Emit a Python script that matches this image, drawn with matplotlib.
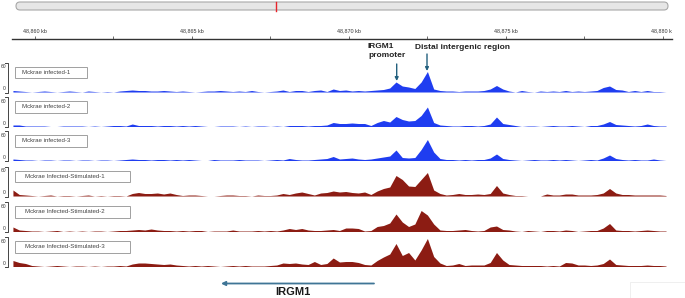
import matplotlib.pyplot as plt
import numpy as np
from matplotlib.patches import FancyBboxPatch, Rectangle

plt.rcParams['font.family'] = ['Liberation Sans', 'DejaVu Sans']

# genomic bins (kb), 0.2 kb wide
start_kb = 48859.3
bin_kb = 0.2

infected_1 = [3, 2, 1, 0, 1, 2, 1, 0, 1, 2,
              1, 0, 2, 1, 0, 1, 0, 2, 3, 4,
              3, 3, 2, 2, 3, 2, 1, 2, 1, 0,
              1, 2, 2, 3, 2, 1, 2, 1, 3, 1,
              0, 1, 2, 4, 1, 3, 3, 1, 3, 4,
              1, 6, 3, 4, 2, 3, 2, 3, 4, 5,
              8, 20, 12, 10, 7, 20, 41, 6, 3, 2,
              2, 1, 2, 2, 2, 3, 6, 13, 6, 2,
              0, 3, 1, 0, 2, 1, 2, 1, 3, 1,
              2, 1, 2, 3, 9, 12, 5, 4, 1, 3,
              1, 3, 1, 1, 0]
infected_2 = [3, 3, 1, 1, 1, 1, 0, 0, 1, 1,
              1, 1, 0, 1, 0, 1, 2, 2, 1, 5,
              2, 2, 2, 1, 2, 2, 1, 2, 1, 2,
              1, 0, 0, 1, 1, 1, 0, 1, 0, 1,
              1, 0, 1, 0, 2, 2, 2, 1, 2, 2,
              3, 8, 6, 6, 7, 6, 6, 2, 8, 12,
              9, 20, 14, 11, 12, 22, 39, 8, 3, 2,
              1, 1, 2, 2, 1, 2, 5, 19, 6, 4,
              2, 0, 1, 1, 0, 1, 2, 1, 1, 2,
              1, 0, 2, 2, 5, 10, 4, 3, 2, 1,
              2, 5, 2, 1, 1]
infected_3 = [3, 2, 1, 1, 0, 1, 1, 0, 1, 1,
              0, 1, 1, 0, 1, 1, 0, 1, 2, 3,
              2, 2, 1, 2, 2, 1, 2, 1, 2, 1,
              0, 0, 2, 1, 1, 1, 2, 1, 1, 1,
              0, 1, 2, 1, 4, 2, 1, 1, 2, 3,
              4, 8, 3, 4, 5, 3, 2, 3, 5, 7,
              9, 21, 6, 5, 6, 22, 42, 17, 4, 2,
              2, 1, 2, 1, 2, 2, 5, 13, 4, 2,
              1, 0, 1, 2, 1, 1, 2, 1, 2, 1,
              0, 1, 2, 1, 5, 11, 4, 2, 1, 2,
              1, 1, 3, 1, 0]
stimulated_1 = [12, 3, 2, 1, 0, 1, 2, 0, 1, 1,
                0, 1, 2, 0, 1, 0, 1, 1, 0, 5,
                7, 5, 5, 6, 4, 6, 3, 1, 2, 2,
                1, 0, 0, 1, 2, 2, 1, 1, 0, 2,
                1, 1, 2, 5, 3, 6, 8, 5, 2, 6,
                7, 10, 8, 9, 7, 6, 8, 3, 10, 15,
                18, 41, 33, 20, 19, 33, 47, 12, 5, 2,
                3, 5, 3, 3, 4, 3, 5, 21, 6, 3,
                1, 1, 0, 0, 0, 4, 2, 2, 4, 4,
                2, 2, 2, 3, 6, 15, 6, 3, 3, 2,
                2, 2, 2, 2, 1]
stimulated_2 = [9, 3, 2, 1, 1, 0, 1, 2, 0, 1,
                0, 1, 0, 1, 1, 0, 1, 2, 2, 3,
                4, 3, 5, 3, 2, 2, 1, 2, 1, 2,
                2, 0, 1, 1, 1, 3, 1, 1, 1, 2,
                1, 2, 1, 3, 6, 4, 6, 3, 2, 2,
                3, 4, 2, 7, 7, 6, 1, 2, 10, 12,
                17, 35, 19, 10, 15, 42, 33, 15, 3, 2,
                2, 3, 4, 2, 1, 2, 9, 11, 4, 3,
                1, 0, 2, 1, 0, 2, 2, 1, 3, 2,
                0, 1, 2, 2, 7, 16, 3, 2, 2, 1,
                2, 3, 2, 1, 1]
stimulated_3 = [12, 8, 6, 2, 1, 0, 1, 2, 1, 0,
                1, 1, 0, 1, 0, 1, 1, 2, 1, 5,
                7, 7, 6, 5, 4, 5, 3, 2, 1, 2,
                1, 2, 1, 0, 1, 2, 1, 2, 1, 1,
                1, 2, 3, 7, 6, 7, 5, 4, 10, 4,
                6, 17, 9, 10, 10, 8, 4, 3, 12, 19,
                25, 46, 22, 28, 13, 33, 56, 20, 7, 2,
                3, 6, 2, 3, 3, 3, 8, 28, 13, 4,
                3, 2, 2, 2, 2, 1, 2, 1, 8, 7,
                3, 3, 2, 3, 6, 15, 4, 3, 2, 2,
                2, 3, 2, 2, 1]

track_names = ['Mckrae infected-1', 'Mckrae infected-2', 'Mckrae infected-3',
               'Mckrae Infected-Stimulated-1', 'Mckrae Infected-Stimulated-2',
               'Mckrae Infected-Stimulated-3']
track_values = [infected_1, infected_2, infected_3,
                stimulated_1, stimulated_2, stimulated_3]
track_colors = ['#1f3df0'] * 3 + ['#8c1c13'] * 3
data_max = 60

ruler_ticks = [48860, 48862.5, 48865, 48867.5, 48870, 48872.5, 48875, 48877.5, 48880]
ruler_labels = ['48,860 kb', '48,865 kb', '48,870 kb', '48,875 kb', '48,880 kb']
ruler_label_pos = [48860, 48865, 48870, 48875, 48880]

W, H = 685, 298
fig = plt.figure(figsize=(W / 100, H / 100), dpi=100)
xlim = (48859.27, 48880.29)
x_left, x_right = 12, 672


def px_axes(x0, y0, x1, y1):
    return fig.add_axes([x0 / W, 1 - y1 / H, (x1 - x0) / W, (y1 - y0) / H])


# overlay in pixel coordinates for decorations
ov = px_axes(0, 0, W, H)
ov.set_xlim(0, W)
ov.set_ylim(H, 0)
ov.axis('off')

# chromosome ideogram
ov.add_patch(FancyBboxPatch((x_left + 4, 2), x_right - x_left - 8, 8,
                            boxstyle='round,pad=0,rounding_size=4',
                            fc='#e6e6e6', ec='#a8a8a8', lw=0.8))
ov.plot([276, 276], [1.5, 10.5], color='#e8232a', lw=1.0)

# ruler
rl = px_axes(x_left, 22, x_right, 38.5)
rl.set_xlim(*xlim)
rl.set_ylim(0, 1)
for s in ['top', 'left', 'right']:
    rl.spines[s].set_visible(False)
rl.spines['bottom'].set_color('#333333')
rl.spines['bottom'].set_linewidth(1.0)
rl.set_yticks([])
rl.set_xticks(ruler_ticks)
rl.set_xticklabels([])
rl.tick_params(axis='x', direction='in', length=2.5, width=0.6, color='#555555')
rl.patch.set_alpha(0)
for pos, lab in zip(ruler_label_pos, ruler_labels):
    rl.text(pos, 0.45, lab, ha='center', va='center', fontsize=3.9,
            color='#333333', clip_on=True)

# tracks
x = start_kb + bin_kb * np.arange(len(infected_1))
baselines = [92, 126.5, 160.5, 196, 231.5, 266.5]
for name, vals, col, base in zip(track_names, track_values, track_colors, baselines):
    ax = px_axes(x_left, base - 30, x_right, base)
    ax.fill_between(x, 0, vals, color=col, lw=0)
    ax.set_xlim(*xlim)
    ax.set_ylim(0, data_max)
    ax.axis('off')
    top = base - 30
    ov.plot([5.5, 8.5, 8.5, 5.5], [top + 0.5, top + 0.5, base + 0.5, base + 0.5],
            color='#444444', lw=0.7)
    ov.text(3.5, top + 5, '60', fontsize=3.6, ha='center', va='center', color='#333333')
    ov.text(4, base - 3, '0', fontsize=3.6, ha='center', va='center', color='#333333')
    bw = 72 if 'Stimulated' not in name else 115
    ov.add_patch(Rectangle((15, base - 25.5), bw, 11.5, fc='white',
                           ec='#a0a0a0', lw=0.7))
    tx = 22 if 'Stimulated' not in name else 25
    ov.text(tx, base - 19.7, name, fontsize=4.4, ha='left', va='center',
            color='#444444')

# peak annotations
arrow_col = '#23607e'
ov.text(368, 51, 'IRGM1\npromoter', fontsize=6, fontweight='bold',
        ha='left', va='center', color='#222222', linespacing=1.3)
ov.text(415, 47.5, 'Distal intergenic region', fontsize=6, fontweight='bold',
        ha='left', va='center', color='#222222')
ov.annotate('', xy=(396.7, 81), xytext=(396.7, 64),
            arrowprops=dict(arrowstyle='-|>', color=arrow_col, lw=1.0,
                            mutation_scale=5, shrinkA=0, shrinkB=0))
ov.annotate('', xy=(427, 71), xytext=(427, 54),
            arrowprops=dict(arrowstyle='-|>', color=arrow_col, lw=1.0,
                            mutation_scale=5, shrinkA=0, shrinkB=0))

# gene
ov.annotate('', xy=(221, 283.5), xytext=(374, 283.5),
            arrowprops=dict(arrowstyle='-|>', color='#3f7596', lw=1.3,
                            mutation_scale=6, shrinkA=0, shrinkB=0))
ov.text(293, 292, 'IRGM1', fontsize=8, fontweight='bold', ha='center',
        va='center', color='#1a1a1a')
ov.add_patch(Rectangle((630, 282), 60, 20, fc='white', ec='#ececec', lw=0.6))

fig.savefig('out.png', dpi=100)
